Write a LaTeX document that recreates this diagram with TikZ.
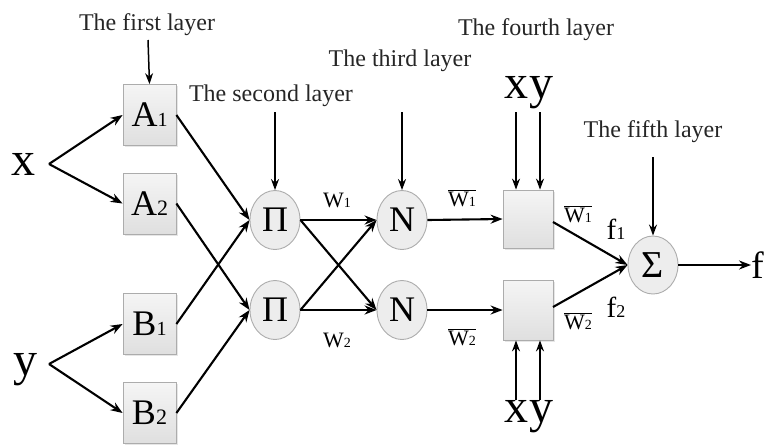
\documentclass[tikz,border=0pt]{standalone}
\usepackage{fontspec}
\setmainfont{Liberation Serif}
\usetikzlibrary{arrows.meta,shadows,shapes.geometric}
\newcommand{\fs}[1]{\fontsize{#1}{#1}\selectfont}
\begin{document}
\begin{tikzpicture}[x=1pt,y=-1pt,
  arr/.style={-{Stealth[length=12pt,width=9pt]},line width=2.1pt},
  tarr/.style={-{Stealth[length=11pt,width=8pt]},line width=1.5pt},
  boxn/.style={draw=gray!65,line width=0.8pt,top color=gray!8,bottom color=gray!25,minimum width=53pt,minimum height=61pt,inner sep=0pt,drop shadow={shadow xshift=1.5pt,shadow yshift=-1.5pt,opacity=0.2}},
  opn/.style={ellipse,draw=gray!65,line width=0.9pt,fill=gray!14,minimum width=50pt,minimum height=59pt,inner sep=0pt},
  lay/.style={font=\fs{24},text=black!85},
  big/.style={font=\fs{48},inner sep=0pt,anchor=base},
  lbl/.style={font=\fs{22},inner sep=0pt},
]
\useasboundingbox (0,0) rectangle (767,445);
% layer 1
\node[boxn] (A1) at (149.5,115) {\fs{36}A\fs{20}1};
\node[boxn] (A2) at (149.5,203.5) {\fs{36}A\fs{22}2};
\node[boxn] (B1) at (149.5,324) {\fs{36}B\fs{20}1};
\node[boxn] (B2) at (149.5,413) {\fs{36}B\fs{22}2};
\node[big] (x) at (24,175) {x};
\node[big] (y) at (25,375) {y};
\coordinate (xo) at (49,164);
\coordinate (yo) at (49,364);
\draw[arr] (xo) -- (A1.west);
\draw[arr] (xo) -- (A2.west);
\draw[arr] (yo) -- (B1.west);
\draw[arr] (yo) -- (B2.west);
% layer 2
\node[opn] (P1) at (275,220) {\fs{36}Π};
\node[opn] (P2) at (275,310) {\fs{36}Π};
\draw[arr] (A1.east) -- (P1.west);
\draw[arr] (B1.east) -- (P1.west);
\draw[arr] (A2.east) -- (P2.west);
\draw[arr] (B2.east) -- (P2.west);
% layer 3
\node[opn] (N1) at (402,220) {\fs{36}N};
\node[opn] (N2) at (402,310) {\fs{36}N};
\draw[arr] (P1.east) -- (N1.west);
\draw[arr] (P1.east) -- (N2.west);
\draw[arr] (P2.east) -- (N1.west);
\draw[arr] (P2.east) -- (N2.west);
\node[lbl] (w1) at (337,200) {W\fs{14}1};
\node[lbl] (w2) at (337,340) {W\fs{14}2};
% layer 4
\node[boxn,minimum width=50pt,minimum height=58pt] (C1) at (528,219) {};
\node[boxn,minimum width=50pt,minimum height=60pt] (C2) at (528,310) {};
\draw[arr] (N1.east) -- (C1.west);
\draw[arr] (N2.east) -- (C2.west);
\node[lbl] (v1) at (462,198) {$\overline{\hbox{W\fs{14}1}}$};
\node[lbl] (v2) at (462,337) {$\overline{\hbox{W\fs{14}2}}$};
\node[big] (tx) at (516,98) {x};
\node[big] (ty) at (541,98) {y};
\node[big] (bx) at (516,422) {x};
\node[big] (by) at (541,422) {y};
\coordinate (txo) at (516,112);
\coordinate (tyo) at (540,112);
\coordinate (bxo) at (516,400);
\coordinate (byo) at (540,400);
\draw[tarr] (txo) -- (txo |- C1.north);
\draw[tarr] (tyo) -- (tyo |- C1.north);
\draw[tarr] (bxo) -- (bxo |- C2.south);
\draw[tarr] (byo) -- (byo |- C2.south);
% layer 5
\node[opn,minimum height=58pt] (S) at (653,265) {\fs{38}Σ};
\coordinate (c1o) at (553,222);
\coordinate (c2o) at (553,307);
\draw[arr] (c1o) -- (S.west);
\draw[arr] (c2o) -- (S.west);
\node[lbl] (u1) at (578,214) {$\overline{\hbox{W\fs{14}1}}$};
\node[lbl] (u2) at (578,321) {$\overline{\hbox{W\fs{14}2}}$};
\node[font=\fs{29},inner sep=0pt] (f1) at (616,229) {f\fs{18}1};
\node[font=\fs{29},inner sep=0pt] (f2) at (616,307) {f\fs{18}2};
\node[font=\fs{38},inner sep=0pt,anchor=base west] (f) at (751,278) {f};
\draw[arr] (S.east) -- (f.west |- S.east);
% layer titles
\node[lay] (L1) at (147,25) {The first layer};
\node[lay] (L2) at (271,96) {The second layer};
\node[lay] (L3) at (400,61) {The third layer};
\node[lay] (L4) at (536,30) {The fourth layer};
\node[lay] (L5) at (653,132) {The fifth layer};
\coordinate (l1o) at (148,40);
\coordinate (l2o) at (275,112);
\coordinate (l3o) at (402,112);
\coordinate (l5o) at (653,157);
\draw[tarr] (l1o) -- (A1.north);
\draw[tarr] (l2o) -- (P1.north);
\draw[tarr] (l3o) -- (N1.north);
\draw[tarr] (l5o) -- (S.north);
\end{tikzpicture}
\end{document}
